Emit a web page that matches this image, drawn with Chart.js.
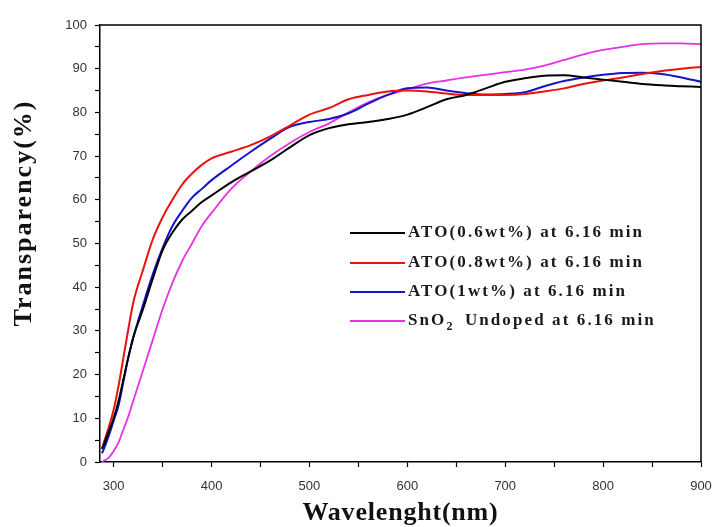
<!DOCTYPE html>
<html>
<head>
<meta charset="utf-8">
<script src="https://cdn.jsdelivr.net/npm/chart.js@4"></script>
<style>
  html, body { margin: 0; padding: 0; background: #fff; }
  #wrap { width: 719px; height: 527px; position: relative; }
</style>
</head>
<body>
<div id="wrap"><canvas id="c" width="719" height="527"></canvas></div>
<script>
// Wavelength samples (nm)
const wavelengths = [288, 290, 295, 300, 305, 310, 315, 320, 330, 340, 350, 360, 370, 380, 390, 400,
  420, 440, 460, 480, 500, 520, 540, 560, 580, 600, 620, 640, 660, 680, 700,
  720, 740, 760, 780, 800, 820, 840, 860, 880, 900];

// Transparency (%) for each film
const ato06 = [3, 4, 7, 10, 14, 19, 24, 28.5, 35, 42, 48.5, 52.5, 55.5, 57.5, 59.5, 61,
  64, 66.5, 69, 72, 74.8, 76.4, 77.3, 77.8, 78.5, 79.5, 81.2, 83, 84, 85.5, 87,
  87.8, 88.4, 88.5, 88, 87.5, 87, 86.5, 86.2, 86, 85.8];
const ato08 = [3, 4.5, 8, 12, 17.5, 24, 30.5, 36.5, 44, 51, 56, 60, 63.5, 66, 68, 69.5,
  71, 72.5, 74.5, 77, 79.5, 81, 83, 84, 84.8, 85, 84.8, 84.3, 84, 84, 84,
  84.2, 84.8, 85.5, 86.5, 87.3, 88, 88.8, 89.5, 90, 90.4];
const ato1 = [2, 3, 6, 9.5, 13, 18.5, 24, 28.5, 36, 43, 49, 54, 57.5, 60.5, 62.5, 64.5,
  67.8, 71, 74, 76.7, 77.8, 78.5, 79.8, 82, 84, 85.5, 85.7, 85, 84.4, 84.1, 84.2,
  84.6, 86, 87.2, 88, 88.6, 89, 89.1, 88.8, 88, 87];
const sno2 = [0, 0.3, 1, 2.5, 4.5, 7.5, 10.5, 14, 21, 28, 35, 41, 46, 50, 54, 57,
  62.5, 66.5, 70, 73, 75.5, 77.5, 80, 82.3, 84, 85.3, 86.6, 87.3, 88, 88.6, 89.2,
  89.8, 90.7, 92, 93.3, 94.3, 95, 95.6, 95.8, 95.8, 95.6];

const seriesLabels = ['ATO(0.6wt%) at 6.16 min', 'ATO(0.8wt%) at 6.16 min', 'ATO(1wt%) at 6.16 min', 'SnO2 Undoped at 6.16 min'];
const seriesColors = ['#000000', '#e8140c', '#1414c8', '#e632e6'];
const seriesValues = [ato06, ato08, ato1, sno2];

// Axis ticks: majors are labelled, minors sit halfway between
const xTicks = [300, 350, 400, 450, 500, 550, 600, 650, 700, 750, 800, 850, 900];
const yTicks = [0, 5, 10, 15, 20, 25, 30, 35, 40, 45, 50, 55, 60, 65, 70, 75, 80, 85, 90, 95, 100];

const xTitle = 'Wavelenght(nm)';
const yTitle = 'Transparency(%)';

const serif = '"Liberation Serif", "Times New Roman", serif';

const datasets = seriesValues.map((vals, i) => ({
  label: seriesLabels[i],
  data: wavelengths.map((w, j) => ({ x: w, y: vals[j] })),
  borderColor: seriesColors[i],
  backgroundColor: seriesColors[i],
  borderWidth: i === 3 ? 1.8 : 2,
  pointRadius: 0,
  tension: 0.4,
  cubicInterpolationMode: 'monotone',
  fill: false
}));

// Closes the plot frame on the top and right sides
const framePlugin = {
  id: 'frame',
  afterDraw(chart) {
    const { ctx, chartArea: a } = chart;
    ctx.save();
    ctx.strokeStyle = '#000';
    ctx.lineWidth = 1.5;
    ctx.beginPath();
    ctx.moveTo(a.left, a.top);
    ctx.lineTo(a.right, a.top);
    ctx.lineTo(a.right, a.bottom);
    ctx.stroke();
    ctx.restore();
  }
};

// Axis titles in a wide bold serif
const axisTitles = {
  id: 'axisTitles',
  afterDraw(chart) {
    const { ctx, chartArea: a } = chart;
    ctx.save();
    ctx.fillStyle = '#111';
    ctx.textAlign = 'center';
    ctx.textBaseline = 'alphabetic';
    ctx.font = 'bold 26px ' + serif;
    if ('letterSpacing' in ctx) ctx.letterSpacing = '0.8px';
    ctx.fillText(xTitle, (a.left + a.right) / 2, 520);
    if ('letterSpacing' in ctx) ctx.letterSpacing = '2px';
    ctx.translate(31, 213);
    ctx.rotate(-Math.PI / 2);
    ctx.fillText(yTitle, 0, 0);
    ctx.restore();
  }
};

// Legend box inside the plot area
const insideLegend = {
  id: 'insideLegend',
  afterDatasetsDraw(chart) {
    const { ctx } = chart;
    const x0 = 350, x1 = 405, tx = 408;
    const rows = [233, 263, 292, 321];
    ctx.save();
    ctx.font = 'bold 17px ' + serif;
    ctx.textBaseline = 'middle';
    ctx.fillStyle = '#1a1a1a';
    if ('letterSpacing' in ctx) ctx.letterSpacing = '2.1px';
    chart.data.datasets.forEach((ds, i) => {
      const y = rows[i];
      ctx.strokeStyle = ds.borderColor;
      ctx.lineWidth = ds.borderWidth;
      ctx.beginPath();
      ctx.moveTo(x0, y);
      ctx.lineTo(x1, y);
      ctx.stroke();
      const lbl = ds.label;
      if (lbl.startsWith('SnO2')) {
        let x = tx;
        ctx.fillText('SnO', x, y);
        x += ctx.measureText('SnO').width;
        ctx.save();
        ctx.font = 'bold 12px ' + serif;
        ctx.fillText('2', x, y + 6);
        x += ctx.measureText('2').width + 4;
        ctx.restore();
        ctx.fillText(lbl.slice(4), x, y);
      } else {
        ctx.fillText(lbl, tx, y);
      }
    });
    ctx.restore();
  }
};

new Chart(document.getElementById('c'), {
  type: 'line',
  data: { datasets },
  options: {
    responsive: false,
    animation: false,
    layout: { padding: { top: 25, right: 18, bottom: 0, left: 0 } },
    plugins: { legend: { display: false }, tooltip: { enabled: false } },
    scales: {
      x: {
        type: 'linear',
        min: 286,
        max: 900,
        afterBuildTicks(scale) { scale.ticks = xTicks.map(v => ({ value: v })); },
        afterFit(scale) { scale.height = 65; scale.paddingLeft = 0; scale.paddingRight = 0; },
        grid: { drawOnChartArea: false, drawTicks: true, tickLength: 5, color: '#000', tickWidth: 1.2 },
        border: { display: true, color: '#000', width: 1.5 },
        ticks: {
          padding: 12,
          color: '#333',
          font: { family: '"Liberation Sans", Arial, sans-serif', size: 13 },
          maxRotation: 0,
          autoSkip: false,
          callback: v => (v % 100 === 0 ? String(v) : '')
        }
      },
      y: {
        min: 0,
        max: 100,
        afterBuildTicks(scale) { scale.ticks = yTicks.map(v => ({ value: v })); },
        afterFit(scale) { scale.width = 100; scale.paddingTop = 0; scale.paddingBottom = 0; },
        grid: { drawOnChartArea: false, drawTicks: true, tickLength: 5, color: '#000', tickWidth: 1.2 },
        border: { display: true, color: '#000', width: 1.5 },
        ticks: {
          padding: 8,
          color: '#333',
          font: { family: '"Liberation Sans", Arial, sans-serif', size: 13 },
          autoSkip: false,
          callback: v => (v % 10 === 0 ? String(v) : '')
        }
      }
    }
  },
  plugins: [framePlugin, axisTitles, insideLegend]
});
</script>
</body>
</html>
